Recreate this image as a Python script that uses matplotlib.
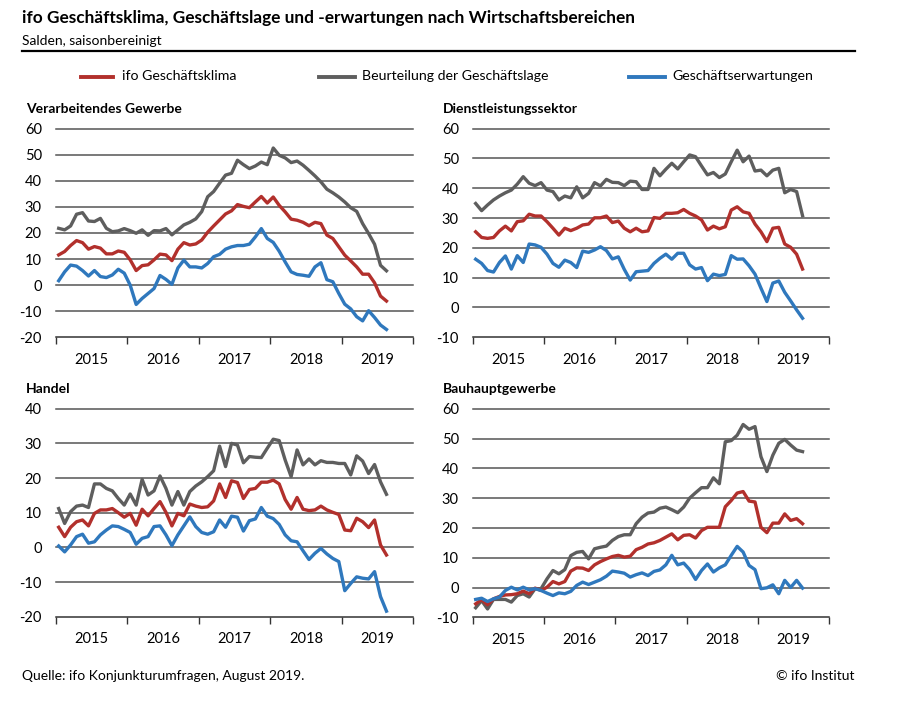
import matplotlib
matplotlib.use('Agg')
import matplotlib.pyplot as plt
import numpy as np
from matplotlib.lines import Line2D

plt.rcParams['font.family'] = ['Lato', 'DejaVu Sans']

# monthly values, Jan 2015 - Aug 2019
vg_klima = [11.6, 12.9, 15.2, 17.1, 16.3, 13.8, 14.8, 14.2, 12.0, 12.0, 13.1, 12.6, 9.7, 5.6, 7.5, 7.8, 9.7, 11.9, 11.6, 9.4,
            13.8, 16.3, 15.4, 15.8, 17.3, 20.3, 22.7, 25.0, 27.3, 28.5, 30.9, 30.2, 29.7, 31.9, 34.0, 31.5, 33.8, 30.6, 28.1, 25.3,
            24.9, 24.1, 22.8, 24.1, 23.6, 19.2, 17.9, 14.7, 11.5, 9.3, 7.0, 4.2, 4.2, 0.9, -4.2, -6.1]
vg_lage = [21.8, 21.2, 22.7, 27.2, 27.8, 24.6, 24.4, 25.6, 21.8, 20.5, 20.8, 21.7, 20.9, 19.9, 21.2, 19.1, 20.9, 20.8, 21.7, 19.3,
           21.2, 23.1, 24.1, 25.4, 28.2, 33.9, 35.9, 39.1, 42.2, 42.9, 47.9, 46.2, 44.7, 45.7, 47.2, 46.2, 52.6, 49.8, 48.8, 47.0,
           47.6, 46.0, 44.0, 41.9, 39.6, 36.8, 35.4, 33.8, 31.9, 29.7, 28.3, 23.6, 19.8, 15.7, 7.6, 5.5]
vg_erw = [1.7, 5.1, 7.7, 7.3, 5.6, 3.5, 5.6, 3.3, 2.9, 3.9, 6.1, 4.6, 0.0, -7.4, -5.1, -3.2, -1.3, 3.7, 2.2, 0.3,
          6.6, 9.6, 7.0, 7.0, 6.6, 8.3, 10.9, 11.8, 13.8, 14.7, 15.2, 15.2, 15.7, 18.5, 21.7, 17.9, 16.4, 13.0, 8.9, 5.1,
          4.1, 3.8, 3.4, 7.0, 8.6, 2.1, 1.3, -3.2, -7.3, -9.1, -12.1, -13.7, -9.8, -12.4, -15.3, -17.0]

dl_klima = [25.4, 23.5, 23.2, 23.5, 25.7, 27.3, 25.7, 28.8, 29.1, 31.3, 30.7, 30.7, 28.8, 26.6, 24.3, 26.6, 25.8, 26.6, 27.7, 28.0,
            30.1, 30.1, 30.7, 28.5, 29.0, 26.6, 25.4, 26.6, 25.4, 25.7, 30.2, 29.9, 31.6, 31.6, 31.8, 32.9, 31.6, 30.7, 29.4, 26.0,
            27.3, 26.4, 27.1, 32.7, 33.8, 32.1, 31.6, 28.0, 25.4, 22.1, 26.6, 26.9, 21.3, 20.2, 17.9, 12.9]
dl_lage = [34.9, 32.5, 34.4, 36.1, 37.4, 38.5, 39.4, 41.4, 43.9, 41.7, 40.9, 41.9, 39.4, 38.9, 36.1, 37.4, 36.8, 40.5, 36.8, 38.3,
           41.9, 40.8, 43.0, 42.0, 41.9, 40.9, 42.4, 42.2, 39.6, 39.6, 46.7, 44.2, 46.4, 48.4, 46.5, 48.9, 51.2, 50.6, 47.5, 44.5,
           45.3, 43.6, 44.8, 48.9, 52.8, 48.9, 50.8, 45.8, 46.1, 44.2, 46.1, 46.7, 38.5, 39.6, 38.9, 30.8]
dl_erw = [16.2, 14.8, 12.4, 11.9, 15.1, 17.3, 12.9, 17.4, 15.1, 21.3, 21.0, 20.2, 17.9, 14.8, 13.5, 15.9, 15.1, 13.4, 18.9, 18.5,
          19.3, 20.4, 19.1, 16.3, 17.0, 12.8, 9.2, 12.0, 12.2, 12.4, 14.8, 16.5, 17.9, 16.2, 18.2, 18.2, 14.3, 12.9, 13.4, 9.0,
          11.2, 10.7, 11.1, 17.4, 16.2, 16.3, 14.0, 11.2, 6.5, 2.0, 8.2, 8.9, 5.1, 2.2, -0.8, -3.6]

ha_klima = [5.8, 3.1, 5.8, 7.4, 7.9, 6.2, 9.8, 10.8, 10.8, 11.2, 10.0, 8.7, 9.8, 6.4, 11.0, 9.1, 11.2, 13.2, 10.1, 6.2,
            9.8, 9.1, 12.5, 11.9, 11.5, 11.7, 13.4, 18.3, 14.4, 19.2, 18.7, 14.1, 16.7, 17.0, 18.8, 18.8, 19.4, 18.3, 13.8, 11.0,
            14.4, 11.0, 10.6, 10.8, 11.9, 10.8, 10.1, 9.5, 5.0, 4.8, 8.4, 7.4, 5.7, 7.9, 0.7, -2.2]
ha_lage = [11.2, 6.9, 10.3, 11.9, 12.2, 11.5, 18.3, 18.3, 17.0, 16.3, 14.1, 12.2, 15.4, 12.2, 19.6, 15.1, 16.3, 20.6, 17.0, 12.2,
           16.1, 12.2, 16.1, 17.7, 18.9, 20.4, 22.1, 29.2, 23.3, 30.0, 29.5, 24.4, 26.2, 26.0, 25.9, 28.6, 31.2, 30.8, 25.2, 20.4,
           28.1, 23.8, 25.5, 23.8, 25.0, 24.5, 24.5, 24.2, 24.2, 20.9, 26.4, 24.9, 21.3, 23.9, 18.9, 15.3]
ha_erw = [0.4, -1.3, 0.7, 3.1, 3.8, 1.2, 1.6, 3.6, 5.0, 6.2, 6.0, 5.2, 4.3, 0.9, 2.6, 3.1, 6.0, 6.2, 3.6, 0.5,
          3.6, 6.2, 8.8, 6.0, 4.3, 3.8, 4.5, 7.9, 5.8, 9.0, 8.7, 4.7, 7.7, 8.2, 11.5, 9.0, 8.3, 6.6, 3.6, 1.9,
          1.6, -1.0, -3.5, -1.7, -0.3, -1.9, -3.2, -4.1, -12.5, -10.4, -8.5, -8.9, -9.1, -7.0, -14.2, -18.4]

bau_klima = [-5.5, -4.1, -5.8, -3.8, -3.0, -2.5, -2.4, -2.1, -1.2, -2.1, -0.2, -1.0, 0.1, 2.0, 1.2, 2.0, 5.5, 6.6, 6.5, 5.7,
             7.6, 8.7, 9.6, 10.4, 10.8, 10.2, 10.5, 12.7, 13.5, 14.6, 15.0, 15.8, 16.9, 18.0, 16.0, 17.5, 17.7, 16.6, 19.1, 20.2,
             20.2, 20.2, 27.1, 29.2, 31.7, 32.2, 29.0, 28.7, 20.2, 18.4, 21.6, 21.6, 24.7, 22.5, 23.1, 21.4]
bau_lage = [-6.8, -4.4, -7.2, -4.0, -4.0, -4.0, -4.9, -2.7, -2.1, -3.2, -0.4, -0.4, 2.9, 5.7, 4.6, 6.0, 10.7, 11.8, 12.1, 9.6,
            13.0, 13.5, 13.9, 15.8, 17.1, 17.7, 17.7, 21.4, 23.6, 25.0, 25.3, 26.6, 27.0, 26.1, 25.1, 27.0, 30.0, 31.8, 33.5, 33.5,
            36.8, 34.8, 48.9, 49.3, 51.1, 54.7, 53.1, 54.0, 43.9, 38.9, 44.4, 48.4, 49.7, 47.8, 46.1, 45.6]
bau_erw = [-4.0, -3.6, -4.7, -3.8, -3.2, -1.0, 0.1, -0.8, 0.1, -0.8, -0.4, -1.0, -1.9, -2.7, -1.8, -2.1, -1.3, 0.7, 1.8, 1.0,
           1.8, 2.6, 3.8, 5.5, 5.2, 4.8, 3.5, 4.3, 4.9, 4.0, 5.4, 5.9, 7.6, 10.8, 7.6, 8.2, 6.0, 2.7, 5.7, 7.9,
           5.2, 6.6, 7.6, 10.8, 13.8, 11.9, 7.4, 6.0, -0.4, -0.1, 0.9, -2.1, 2.4, 0.0, 2.4, -0.2]

years = ['2015', '2016', '2017', '2018', '2019']
series_names = ['ifo Geschäftsklima', 'Beurteilung der Geschäftslage', 'Geschäftserwartungen']
RED, GREY, BLUE = '#b2302c', '#5e5e5e', '#2f78bd'

W, H = 898, 708
fig = plt.figure(figsize=(W / 100, H / 100), dpi=100)


def fx(px):
    return px / W


def fy(py):
    return 1 - py / H


def panel(x0, x1, y0, y1, title, klima, lage, erw, ylo, yhi):
    ax = fig.add_axes([fx(x0), fy(y1), fx(x1 - x0), (y1 - y0) / H])
    months = np.arange(len(klima))
    ax.plot(months, lage, color=GREY, lw=2.4, solid_joinstyle='round')
    ax.plot(months, klima, color=RED, lw=2.4, solid_joinstyle='round')
    ax.plot(months, erw, color=BLUE, lw=2.4, solid_joinstyle='round')
    ax.set_xlim(-0.5, 59.5)
    ax.set_ylim(ylo, yhi)
    ticks = np.arange(ylo, yhi + 1, 10)
    for v in ticks[1:]:
        ax.axhline(v, color='#555555', lw=1.1, zorder=0, clip_on=False)
    ax.set_yticks(ticks)
    ax.set_yticklabels([str(t) for t in ticks])
    ax.tick_params(axis='y', length=0, pad=10, labelsize=10.5)
    ax.set_xticks([-0.5 + 12 * k for k in range(6)])
    ax.set_xticklabels([])
    ax.set_xticks([5.5 + 12 * k for k in range(5)], minor=True)
    ax.set_xticklabels(years, minor=True)
    ax.tick_params(axis='x', which='major', length=5, width=1, color='#333333', direction='out')
    ax.tick_params(axis='x', which='minor', length=0, pad=11, labelsize=10.5)
    for s in ['top', 'right', 'left']:
        ax.spines[s].set_visible(False)
    ax.spines['bottom'].set_color('#333333')
    ax.spines['bottom'].set_linewidth(1.1)
    fig.text(fx(x0 - 30), fy(y0 - 20), title, fontsize=10, fontweight='bold', va='center', ha='left')
    return ax


panel(55.7, 413.3, 128.7, 337.3, 'Verarbeitendes Gewerbe', vg_klima, vg_lage, vg_erw, -20, 60)
panel(472.7, 829.3, 128.7, 337.3, 'Dienstleistungssektor', dl_klima, dl_lage, dl_erw, -10, 60)
panel(55.7, 413.3, 408.7, 616.7, 'Handel', ha_klima, ha_lage, ha_erw, -20, 40)
panel(472.7, 829.3, 408.7, 617.3, 'Bauhauptgewerbe', bau_klima, bau_lage, bau_erw, -10, 60)

# header
fig.text(fx(22), fy(18), 'ifo Geschäftsklima, Geschäftslage und -erwartungen nach Wirtschaftsbereichen',
         fontsize=12.4, fontweight='bold', va='center', ha='left')
fig.text(fx(22), fy(41), 'Salden, saisonbereinigt', fontsize=10, va='center', ha='left')
fig.add_artist(Line2D([fx(22), fx(855)], [fy(50.5), fy(50.5)], color='black', lw=1.6))

# legend
for (lx0, lx1, tx), name, col in zip([(81, 113, 122), (319, 355, 362), (629, 665, 672)],
                                     series_names, [RED, GREY, BLUE]):
    fig.add_artist(Line2D([fx(lx0), fx(lx1)], [fy(76.5), fy(76.5)], color=col, lw=2.8))
    fig.text(fx(tx), fy(76.5), name, fontsize=10.2, va='center', ha='left')

# footer
fig.text(fx(22), fy(676), 'Quelle: ifo Konjunkturumfragen, August 2019.', fontsize=10, va='center', ha='left')
fig.text(fx(855), fy(676), '© ifo Institut', fontsize=10, va='center', ha='right')

fig.savefig('out.png', dpi=100)
